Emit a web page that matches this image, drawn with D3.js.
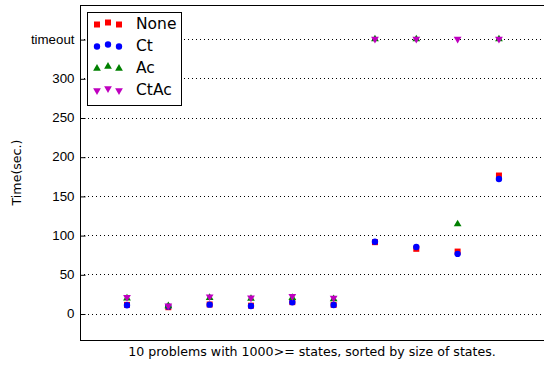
<!DOCTYPE html>
<html>
<head>
<meta charset="utf-8">
<script src="https://cdn.jsdelivr.net/npm/d3@7"></script>
<style>
  body { margin: 0; background: #fff; }
  svg { font-family: "DejaVu Sans", sans-serif; }
</style>
</head>
<body>
<figure id="chart" style="margin:0"></figure>
<script>
// problem index 1..10, timeout drawn at 350
const problems = [1, 2, 3, 4, 5, 6, 7, 8, 9, 10];
const TIMEOUT = 350;
const noneVals = [11, 8, 11.5, 10, 14.5, 11, 91, 82.5, 79, 176];
const ctVals   = [10.5, 9, 11.3, 9.6, 14.3, 10.8, 91.6, 84.8, 76, 171.5];
const acVals   = [19.5, 9.5, 20, 19, 20, 18.5, TIMEOUT, TIMEOUT, 114, TIMEOUT];
const ctacVals = [20.7, 10, 21.5, 20.2, 22, 19.8, TIMEOUT, TIMEOUT, TIMEOUT, TIMEOUT];
const yTicks = [0, 50, 100, 150, 200, 250, 300, 350];
const yTickLabels = ["0", "50", "100", "150", "200", "250", "300", "timeout"];

const series = [
  { name: "None", values: noneVals, color: "#ff0000", symbol: d3.symbolSquare, size: 36, rot: 0 },
  { name: "Ct", values: ctVals, color: "#0000ff", symbol: d3.symbolCircle, size: 32, rot: 0 },
  { name: "Ac", values: acVals, color: "#008000", symbol: d3.symbolTriangle, size: 26, rot: 0 },
  { name: "CtAc", values: ctacVals, color: "#bf00bf", symbol: d3.symbolTriangle, size: 26, rot: 180 }
];

const W = 544, H = 365;
const plotL = 80, plotR = 544, plotT = 5, plotB = 340;

const svg = d3.select("#chart").append("svg")
  .attr("width", W).attr("height", H);

const x = d3.scaleLinear().domain([-0.137, 11.09]).range([plotL, plotR]);
const y = d3.scaleLinear().domain([-33.8, 393.5]).range([plotB, plotT]);

// dotted grid
svg.append("g").selectAll("line")
  .data(yTicks)
  .enter().append("line")
  .attr("x1", plotL).attr("x2", plotR)
  .attr("y1", d => Math.round(y(d)) + 0.5).attr("y2", d => Math.round(y(d)) + 0.5)
  .attr("stroke", "#000")
  .attr("stroke-width", 1)
  .attr("stroke-dasharray", "1,3");

// y axis, inward ticks like matplotlib classic
const yAxis = svg.append("g")
  .attr("transform", "translate(" + (plotL + 0.5) + ",0)")
  .call(d3.axisLeft(y).tickValues(yTicks).tickFormat((d, i) => yTickLabels[i]).tickSizeInner(-5).tickSizeOuter(0).tickPadding(6));
yAxis.select(".domain").remove();
yAxis.selectAll(".tick line").attr("stroke", "#000").attr("transform", "translate(0,0.5)");
yAxis.selectAll("text").style("font-size", "13.3px").attr("fill", "#000");

// frame
svg.append("rect")
  .attr("x", plotL + 0.5).attr("y", plotT + 0.5)
  .attr("width", plotR - plotL + 10).attr("height", plotB - plotT)
  .attr("fill", "none").attr("stroke", "#000").attr("stroke-width", 1);

// markers
series.forEach(s => {
  const sym = d3.symbol().type(s.symbol).size(s.size);
  svg.append("g").selectAll("path")
    .data(problems)
    .enter().append("path")
    .attr("d", sym)
    .attr("transform", (d, i) => "translate(" + x(d) + "," + y(s.values[i]) + ")rotate(" + s.rot + ")")
    .attr("fill", s.color);
});

// legend
const lg = svg.append("g");
lg.append("rect")
  .attr("x", 87.5).attr("y", 12.5).attr("width", 94).attr("height", 93)
  .attr("fill", "#fff").attr("stroke", "#000").attr("stroke-width", 1);
const offs = [0.5, -1.5, 0.5];
series.forEach((s, k) => {
  const ly = 24 + k * 22;
  const sym = d3.symbol().type(s.symbol).size(s.size);
  [97, 108, 119].forEach((lx, j) => {
    lg.append("path")
      .attr("d", sym)
      .attr("transform", "translate(" + lx + "," + (ly + offs[j]) + ")rotate(" + s.rot + ")")
      .attr("fill", s.color);
  });
  lg.append("text")
    .attr("x", 136).attr("y", ly)
    .attr("dy", "0.35em")
    .style("font-size", "15.5px")
    .text(s.name);
});

// axis labels
svg.append("text")
  .attr("x", (plotL + plotR) / 2).attr("y", 356)
  .attr("text-anchor", "middle")
  .style("font-size", "12.6px")
  .text("10 problems with 1000>= states, sorted by size of states.");

svg.append("text")
  .attr("transform", "translate(21," + (plotT + plotB) / 2 + ")rotate(-90)")
  .attr("text-anchor", "middle")
  .style("font-size", "12.6px")
  .text("Time(sec.)");
</script>
</body>
</html>
